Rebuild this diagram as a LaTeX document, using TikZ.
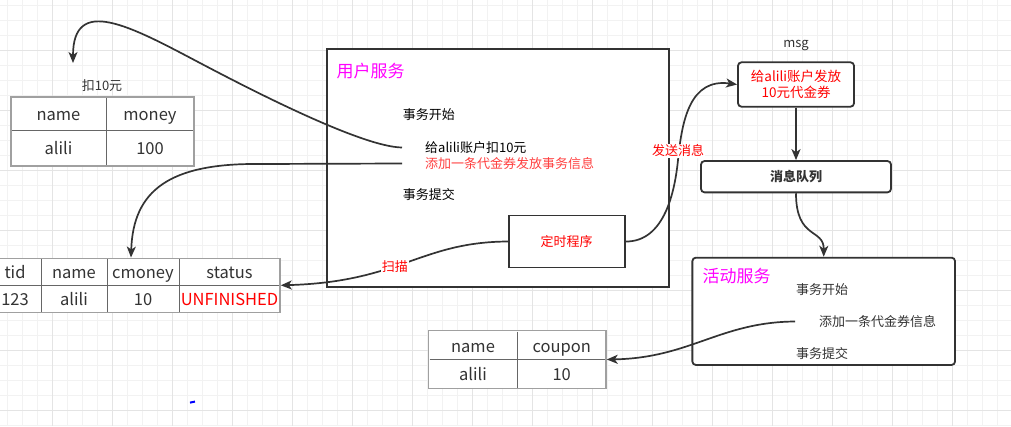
\documentclass[tikz,border=0pt]{standalone}
\usepackage{fontspec}
\setmainfont{Noto Sans CJK SC}
\usetikzlibrary{arrows.meta}
\definecolor{ink}{HTML}{333333}
\definecolor{gridminor}{HTML}{F2F2F2}
\definecolor{gridmajor}{HTML}{E4E4E4}
\definecolor{tborder}{HTML}{A0A0A0}
\definecolor{tinner}{HTML}{666666}
\definecolor{redA}{HTML}{FF0000}
\definecolor{redB}{HTML}{FF4040}
\definecolor{pinkT}{HTML}{FF00FF}
\newcommand{\fsz}[2]{\fontsize{#1pt}{#2pt}\selectfont}
\tikzset{
  gmin/.style={draw=gridminor, line width=0.9pt},
  gmaj/.style={draw=gridmajor, line width=0.9pt},
  conn/.style={draw=ink, line width=1.7pt, -{Stealth[length=11pt,width=9pt,inset=3pt]}},
  plainbox/.style={draw=ink, line width=1.8pt, fill=white, inner sep=0pt},
  roundbox/.style={plainbox, rounded corners=3.5pt},
  tbl/.style={draw=tborder, line width=1.5pt, fill=white, inner sep=0pt},
  tline/.style={draw=tinner, line width=1pt},
  cell/.style={text=ink, font=\fsz{16.5}{20}, inner sep=0pt, anchor=base},
  txt/.style={font=\fsz{13}{16}, inner sep=0pt, anchor=west},
  title/.style={font=\fsz{17}{20}, text=pinkT, inner sep=0pt, anchor=west},
  lbl/.style={font=\fsz{13}{16}, text=redA, fill=white, inner sep=1pt}
}
\begin{document}
\begin{tikzpicture}[x=1pt,y=-1pt]
\useasboundingbox (0,0) rectangle (1011,426);
\fill[white] (0,0) rectangle (1011,426);
% grid
\begin{scope}
\clip (0,0) rectangle (1011,426);
\foreach \i in {0,...,67} \draw[gmin] ({7.3+15*\i},0) -- ({7.3+15*\i},426);
\foreach \j in {0,...,28} \draw[gmin] (0,{5.7+15*\j}) -- (1011,{5.7+15*\j});
\foreach \i in {0,...,16} \draw[gmaj] ({52.3+60*\i},0) -- ({52.3+60*\i},426);
\foreach \j in {0,...,6} \draw[gmaj] (0,{50.7+60*\j}) -- (1011,{50.7+60*\j});
\end{scope}

% ---- table 1
\node[text=ink, font=\fsz{13}{16}, inner sep=0pt] (tab1cap) at (102,86) {扣10元};
\node[tbl, minimum width=183pt, minimum height=69pt] (tab1) at (102.5,131.5) {};
\draw[tline] (106.3,98) -- (106.3,165);
\draw[tline] (12,130.3) -- (193,130.3);
\node[cell] (t1a) at (58.5,120.3) {name};
\node[cell] (t1b) at (150,120.3) {money};
\node[cell] (t1c) at (58.5,154) {alili};
\node[cell] (t1d) at (150,154) {100};

% ---- table 2
\node[tbl, minimum width=291pt, minimum height=54pt] (tab2) at (134.5,285.3) {};
\draw[tline] (41,259) -- (41,311.5);
\draw[tline] (107.3,259) -- (107.3,311.5);
\draw[tline] (179,259) -- (179,311.5);
\draw[tline] (-10,285) -- (279,285);
\node[cell] (t2a) at (15,278.2) {tid};
\node[cell] (t2b) at (74,278.2) {name};
\node[cell] (t2c) at (143,278.2) {cmoney};
\node[cell] (t2d) at (229.5,278.2) {status};
\node[cell] (t2e) at (15,305) {123};
\node[cell] (t2f) at (74,305) {alili};
\node[cell] (t2g) at (143,305) {10};
\node[cell, text=redA] (t2h) at (229.5,305) {UNFINISHED};

% ---- table 3
\node[tbl, minimum width=177.3pt, minimum height=57.6pt] (tab3) at (517.3,359.5) {};
\draw[tline] (517.3,331.5) -- (517.3,387.5);
\draw[tline] (429.5,359.3) -- (605.2,359.3);
\node[cell] (t3a) at (473,352.2) {name};
\node[cell] (t3b) at (561.7,352.2) {coupon};
\node[cell] (t3c) at (473,380.6) {alili};
\node[cell] (t3d) at (561.7,380.6) {10};

% ---- user service
\node[plainbox, minimum width=342pt, minimum height=238pt] (usr) at (497.7,168) {};
\node[title] (usrT) at (336.5,71) {用户服务};
\node[txt] (u1) at (402.7,115) {事务开始};
\node[txt, inner xsep=23pt] (u2) at (402,147.5) {给alili账户扣10元};
\node[txt, inner xsep=23pt, text=redB] (u3) at (402,163.5) {添加一条代金券发放事务信息};
\node[txt] (u4) at (402.7,195) {事务提交};
\node[plainbox, minimum width=116pt, minimum height=52pt, text=redA, font=\fsz{13}{16}] (timer) at (566.7,241.5) {定时程序};

% ---- msg
\node[text=ink, font=\fsz{13}{16}, inner sep=0pt] (msgcap) at (796,45.7) {msg};
\node[roundbox, minimum width=116pt, minimum height=44.4pt, text=redA, font=\fsz{13.5}{16.6}, align=center] (msg) at (796,84.5) {给alili账户发放\\10元代金券};
\node[roundbox, minimum width=190pt, minimum height=31.3pt, text=ink, font=\fsz{13}{16}\bfseries] (queue) at (796,176.7) {消息队列};

% ---- activity service
\node[roundbox, minimum width=262.7pt, minimum height=107.3pt] (act) at (823.7,311.3) {};
\node[title] (actT) at (702.3,275.7) {活动服务};
\node[txt, text=ink] (a1) at (796,289.3) {事务开始};
\node[txt, text=ink, inner xsep=24pt] (a2) at (795,321.5) {添加一条代金券信息};
\node[txt, text=ink] (a3) at (796,353.3) {事务提交};

% ---- connectors
\coordinate (a1end) at (73,63);
\draw[conn] (u2.west) .. controls (360,147) and (240,84) .. (200,63)
  .. controls (130,26) and (73,-5) .. (a1end);
\draw[conn] (u3.west) -- (260,164) .. controls (170,163) and (133,190) .. ([xshift=-3.5pt]tab2.north);
\draw[conn] (timer.west) .. controls (420,242) and (400,282) .. node[lbl, pos=0.56] {扫描} (tab2.east);
\draw[conn] (timer.east) .. controls (665,242) and (675,190) .. (678,160)
  node[lbl, yshift=9pt] {发送消息}
  .. controls (682,120) and (690,78) .. (msg.west);
\draw[conn] (msg.south) -- (queue.north);
\draw[conn] (queue.south) .. controls (796,240) and (824,228) .. (act.north);
\draw[conn] (a2.west) .. controls (720,322) and (690,358) .. (tab3.east);

% stray mark
\draw[blue, line width=2pt] (190,402.6) -- (195,401.6);
\end{tikzpicture}
\end{document}
